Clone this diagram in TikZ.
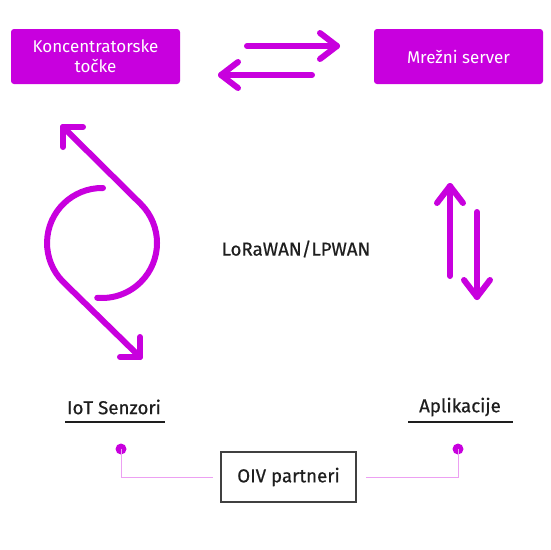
\documentclass[tikz,border=0pt]{standalone}
\usepackage{fontspec}
\setmainfont{Fira Sans}
\newfontfamily\medfont{Fira Sans}[FakeBold=0.6]
\definecolor{mag}{RGB}{200,0,222}
\definecolor{lightmag}{RGB}{236,160,242}
\definecolor{ink}{RGB}{30,30,30}
\begin{document}
\begin{tikzpicture}[x=1pt,y=-1pt,
  topbox/.style={fill=mag,rounded corners=3pt,text=white,align=center,font=\fontsize{17}{20}\selectfont,inner sep=0pt},
  arr/.style={draw=mag,line width=6pt,line cap=round,line join=round},
  lbl/.style={text=ink,font=\medfont\fontsize{18.7}{22}\selectfont,inner sep=0pt},
  uline/.style={draw=ink,line width=1.6pt},
  conn/.style={draw=lightmag,line width=1pt},
  dot/.style={circle,fill=mag,minimum size=11pt,inner sep=0pt}]
\useasboundingbox (0,0) rectangle (550,550);
% top boxes
\node[topbox,minimum width=169pt,minimum height=55pt] (konc) at (95.5,56.5) {Koncentratorske\\toč\-ke};
\node[topbox,minimum width=169pt,minimum height=55pt] (srv) at (458.5,56.5) {Mrežni server};
% top arrows
\coordinate (a1s) at (247,46); \coordinate (a1e) at (337,46);
\coordinate (a2s) at (312,75); \coordinate (a2e) at (221,75);
\draw[arr] (a1s) -- (a1e);
\draw[arr] ([shift={(-17,-13)}]a1e) -- (a1e) -- ([shift={(-17,13)}]a1e);
\draw[arr] (a2s) -- (a2e);
\draw[arr] ([shift={(17,-13)}]a2e) -- (a2e) -- ([shift={(17,13)}]a2e);
% loop
\coordinate (lt) at (63,127);
\coordinate (lb) at (140,357);
\draw[arr] (lt) -- (140.9,204.1) arc[start angle=45,end angle=-95,radius=55pt];
\draw[arr] (lt) ++(20,0) -- (lt) -- ++(0,20);
\draw[arr] (103,188) arc[start angle=89,end angle=225,radius=55pt] -- (lb);
\draw[arr] (lb) ++(-20,0) -- (lb) -- ++(0,-20);
% right arrows
\coordinate (r1s) at (450,276); \coordinate (r1e) at (450,186);
\coordinate (r2s) at (477,212); \coordinate (r2e) at (477,297);
\draw[arr] (r1s) -- (r1e);
\draw[arr] ([shift={(-13,17)}]r1e) -- (r1e) -- ([shift={(13,17)}]r1e);
\draw[arr] (r2s) -- (r2e);
\draw[arr] ([shift={(-13,-17)}]r2e) -- (r2e) -- ([shift={(13,-17)}]r2e);
% center label
\node[lbl] (lora) at (296,249) {LoRaWAN/LPWAN};
% bottom labels
\node[lbl] (iot) at (114,407) {IoT Senzori};
\node[lbl] (apl) at (460,407) {Aplikacije};
\draw[uline] (65,422) -- (165,422);
\draw[uline] (408,422) -- (513,422);
% OIV box
\node[draw=ink!85,line width=1.3pt,minimum width=135pt,minimum height=50pt,text=ink,font=\medfont\fontsize{18.7}{22}\selectfont] (oiv) at (288.5,477) {OIV partneri};
% dots and connectors
\node[dot] (d1) at (121,449) {};
\node[dot] (d2) at (458,449) {};
\draw[conn] (d1.center) -- (121,477) -- ([xshift=-7pt]oiv.west);
\draw[conn] (d2.center) -- (458,477) -- ([xshift=9pt]oiv.east);
\end{tikzpicture}
\end{document}
